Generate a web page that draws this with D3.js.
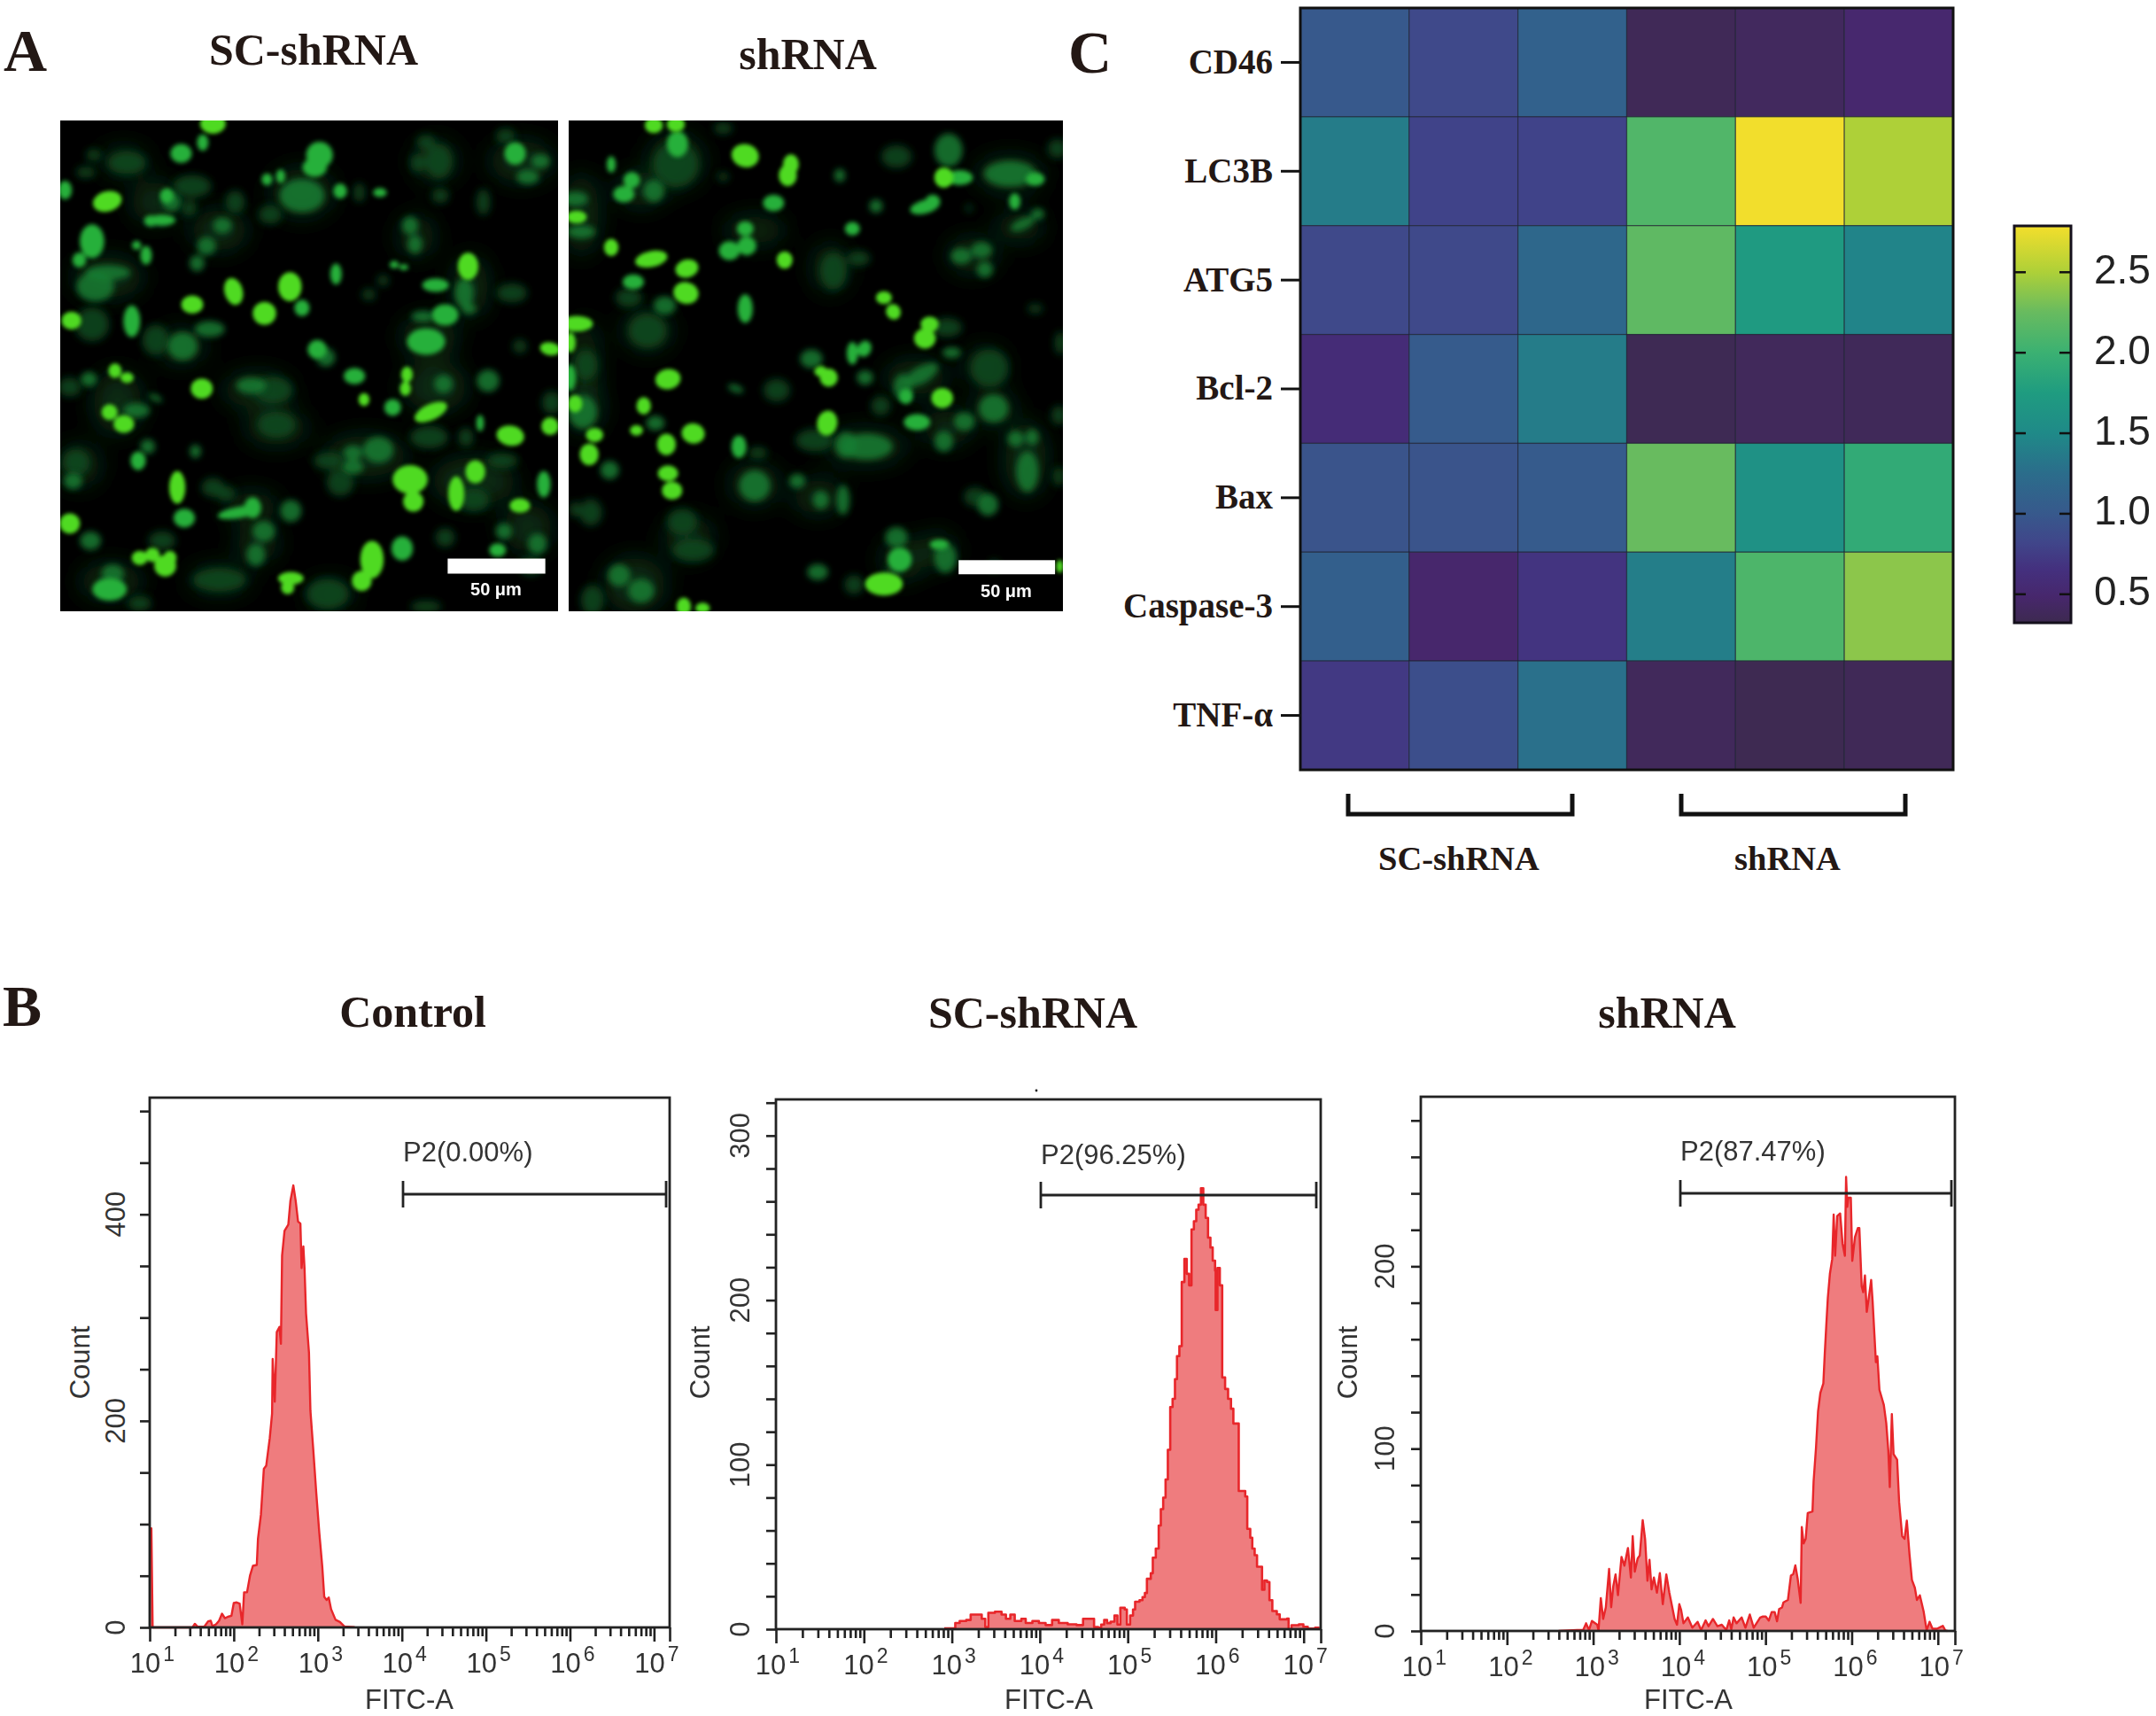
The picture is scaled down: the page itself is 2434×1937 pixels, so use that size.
<!DOCTYPE html>
<html><head><meta charset="utf-8">
<script src="https://cdn.jsdelivr.net/npm/d3@7"></script>
<style>html,body{margin:0;padding:0;background:#fff}svg{display:block}</style>
</head><body><svg id="fig" width="2434" height="1937"></svg>
<script>
// ---------- Panel C data ----------
const geneLabels = ["CD46","LC3B","ATG5","Bcl-2","Bax","Caspase-3","TNF-α"];
const sampleIds = ["s1","s2","s3","k1","k2","k3"];
const rowCD46 = [1.0,0.85,1.1,0.36,0.4,0.5];
const rowLC3B = [1.38,0.8,0.8,2.12,2.78,2.5];
const rowATG5 = [0.85,0.85,1.18,2.2,1.72,1.45];
const rowBcl2 = [0.58,1.03,1.38,0.34,0.38,0.37];
const rowBax = [0.95,0.95,1.02,2.25,1.6,1.92];
const rowCasp3 = [1.08,0.48,0.68,1.4,2.1,2.38];
const rowTNFa = [0.72,0.9,1.28,0.38,0.33,0.36];
const colorbarTicks = [0.5,1.0,1.5,2.0,2.5];
const colorDomain = [0.32,0.48,0.65,0.82,1.0,1.25,1.5,1.75,2.0,2.25,2.5,2.78];
const colorRange = ["#3d2a50","#47276c","#44307e","#40468a","#37598c","#2b6d8b","#1f8a88","#1f9c80","#3bb172","#68bb5f","#aed038","#f2de2c"];

// ---------- Panel B data: [log10 FITC-A, count] ----------
const controlHist = [[1,96],[1.02,96],[1.035,0],[1.5,0],[1.509,0],[1.537,3.5],[1.572,.6],[1.649,.6],[1.695,5.9],[1.726,6.5],[1.747,1.2],[1.789,3],[1.825,6.5],[1.86,13.3],[1.895,8.9],[1.93,10.3],[1.972,11.2],[2,23.6],[2.035,24.2],[2.07,23],[2.102,3],[2.123,34],[2.158,34],[2.193,50],[2.228,59.6],[2.274,60.5],[2.288,85.6],[2.323,109],[2.358,153.5],[2.386,156.5],[2.428,183],[2.456,207],[2.463,260],[2.488,218.5],[2.512,286],[2.544,291],[2.561,274.6],[2.575,360],[2.604,384],[2.649,390],[2.674,413],[2.709,428],[2.737,413],[2.765,393],[2.793,391],[2.807,348],[2.828,369],[2.842,348],[2.86,304],[2.895,266],[2.912,210],[2.947,171],[2.982,130],[3.018,91.5],[3.053,59],[3.077,29.5],[3.105,26.6],[3.13,29],[3.158,17.7],[3.211,7.4],[3.263,5.3],[3.316,.9],[3.439,.3]];
const scHist = [[2.914,.5],[3.014,.5],[3.039,3.8],[3.089,5],[3.164,5.6],[3.214,8.9],[3.29,8.9],[3.34,6.3],[3.38,1.3],[3.415,10],[3.49,10.6],[3.565,8.9],[3.615,6.3],[3.665,8.9],[3.715,5],[3.79,6.3],[3.84,3.8],[3.916,5],[3.99,3.8],[4.066,2.5],[4.14,5.6],[4.216,3.8],[4.317,3],[4.417,2.5],[4.492,6.3],[4.567,6.3],[4.617,1.3],[4.664,.9],[4.698,2.8],[4.732,5.6],[4.765,3.7],[4.805,4.6],[4.849,8.3],[4.883,2.8],[4.916,13],[4.966,12],[4.99,2.8],[5.027,8.3],[5.06,12],[5.084,16.7],[5.134,17.6],[5.168,19.5],[5.195,22],[5.218,30.6],[5.262,34],[5.285,43.5],[5.319,49],[5.352,63],[5.376,73],[5.403,80],[5.43,91],[5.456,109],[5.483,135],[5.51,140],[5.537,152],[5.56,166],[5.587,172],[5.614,211],[5.644,225],[5.671,216],[5.698,209],[5.725,243],[5.752,248],[5.779,255],[5.805,258],[5.832,268],[5.859,258],[5.886,250],[5.913,238],[5.94,232],[5.966,224],[5.993,218],[6,194],[6.02,219.5],[6.047,209],[6.074,153],[6.107,146],[6.141,140],[6.174,134],[6.201,125],[6.228,125],[6.262,84],[6.309,84],[6.336,80.6],[6.359,61],[6.393,55.6],[6.416,49],[6.443,45],[6.47,38],[6.503,38],[6.527,24],[6.554,29.6],[6.584,28.7],[6.611,17.6],[6.644,11],[6.695,9],[6.728,6],[6.812,6.5],[6.829,0],[6.862,2.4],[6.946,3],[6.997,1.5],[7.047,.4],[7.131,.9],[7.181,.9]];
const shHist = [[2.6,0],[2.815,.5],[2.884,.5],[2.918,4.2],[2.952,.5],[2.986,5.5],[3.048,3.4],[3.062,.2],[3.089,18],[3.116,6.6],[3.147,13],[3.185,34],[3.209,13],[3.233,24.4],[3.26,31],[3.288,19.6],[3.329,40.6],[3.363,35.8],[3.404,45.5],[3.438,29.3],[3.459,52],[3.483,32.5],[3.517,39.8],[3.541,41.4],[3.575,60.8],[3.603,50.3],[3.63,27.5],[3.654,39],[3.678,22.8],[3.705,29.3],[3.74,21],[3.774,31.7],[3.808,14.7],[3.849,31],[3.884,21],[3.918,13],[3.945,6.6],[3.973,3.4],[4,14.7],[4.021,11.5],[4.048,4.2],[4.099,7.4],[4.151,1.8],[4.212,5],[4.253,.5],[4.305,5.8],[4.339,2.6],[4.39,6.6],[4.442,2.6],[4.493,3.4],[4.545,.5],[4.579,5.8],[4.603,1],[4.63,7.4],[4.664,4.2],[4.723,7.4],[4.767,1.8],[4.818,9],[4.863,1.8],[4.938,7.4],[4.969,7.9],[5.003,7.9],[5.038,5.7],[5.072,10.4],[5.106,10.4],[5.134,5.3],[5.158,12],[5.192,12.9],[5.209,15.7],[5.26,17],[5.295,30.4],[5.322,31.2],[5.346,36],[5.373,28.7],[5.408,15.4],[5.421,57],[5.442,48],[5.466,50.5],[5.49,64.7],[5.545,65.5],[5.558,82],[5.586,100.6],[5.61,120.6],[5.637,130.7],[5.671,135.7],[5.688,152.4],[5.705,167.4],[5.723,182.5],[5.747,195.8],[5.774,204],[5.791,228.4],[5.808,205.8],[5.832,227.6],[5.866,229],[5.894,212.5],[5.921,205.8],[5.935,249],[5.949,232.6],[5.962,237.6],[5.99,237.6],[6.007,203],[6.038,216],[6.072,221],[6.089,221],[6.116,189],[6.134,185.8],[6.154,195],[6.175,175],[6.202,184],[6.226,192.5],[6.243,180.8],[6.264,162.4],[6.281,147.4],[6.298,150.7],[6.322,132.3],[6.373,124],[6.401,114],[6.425,99],[6.442,78.9],[6.466,119],[6.486,97],[6.527,94],[6.551,70.5],[6.586,52],[6.613,50.5],[6.64,60.5],[6.671,42],[6.699,28],[6.733,23.7],[6.757,17],[6.791,19.5],[6.836,10.4],[6.87,.3],[6.904,5],[6.938,1.2],[6.99,1.2],[7.058,2.8],[7.086,.3],[7.11,0]];
const controlYTicks = [0,200,400];
const scYTicks = [0,100,200,300];
const shYTicks = [0,100,200];
const decadeExponents = [1,2,3,4,5,6,7];
const minorMultipliers = [2,3,4,5,6,7,8,9];
const gateLabels = ["P2(0.00%)","P2(96.25%)","P2(87.47%)"];

const scHaze = [[150,500,100,60],[760,230,90,70],[1160,690,80,60],[620,860,100,50],[680,980,90,50],[960,1070,120,60],[160,1470,90,50],[850,1510,70,40],[1180,130,60,60],[380,720,70,50],[180,900,70,90],[1290,530,50,90],[500,350,80,60],[300,260,70,60],[1450,130,90,60],[500,1465,90,40],[1180,850,90,70],[1300,1150,120,70],[600,1230,80,40],[60,1100,60,60],[200,130,70,40],[1120,370,50,60],[620,1350,60,50],[1470,1300,70,70]];
const shHaze = [[340,130,80,80],[230,220,70,50],[40,300,50,120],[50,800,40,150],[50,920,50,70],[250,670,70,60],[210,1480,90,80],[940,1040,120,50],[590,1160,70,60],[1450,1080,60,110],[1100,820,90,50],[1320,780,60,50],[1060,1400,60,60],[1400,170,100,50],[590,350,90,40],[830,470,50,70],[790,1200,70,50],[1350,915,60,50],[1430,340,70,40],[1280,430,70,50],[1200,980,70,50],[380,1330,70,60],[1170,1370,50,50]];
const scBright = [[480,10,35,28],[148,258,40,28,-15],[35,638,27,25],[722,530,32,40],[642,615,32,32],[415,587,30,25],[545,545,25,38,-15],[1282,465,28,38],[1540,728,28,18,10],[1540,975,24,25],[1415,1005,38,28,10],[1100,1145,48,40],[1305,1120,27,32],[1245,1190,22,48],[980,1400,32,52],[948,1468,27,28],[1165,930,48,22,-25],[955,890,15,18],[1085,855,15,20],[1090,810,16,22],[200,968,28,25],[155,930,22,22],[172,798,18,20],[210,820,18,15],[445,855,30,28],[30,1285,28,28],[368,1170,22,45],[250,1395,22,20],[290,1385,20,20],[330,1420,30,30],[345,1395,18,20],[725,1460,35,18],[715,1490,18,18],[1110,1215,28,28],[1445,1228,28,20]];
const scMid = [[100,385,32,45],[15,222,18,25],[448,70,15,22],[380,105,28,25],[800,150,32,25],[815,110,35,35],[650,188,14,16],[693,178,12,18],[1430,105,28,30],[225,640,22,42],[867,490,15,28],[760,598,20,22],[270,430,15,25],[240,398,12,12],[320,318,35,15],[285,320,18,15],[335,240,18,20],[880,225,18,20],[1005,230,18,12],[1180,525,35,18],[1210,620,35,28],[1150,705,50,35],[808,730,25,25],[925,815,28,22],[1045,915,22,22],[245,1085,20,25],[390,1268,28,25],[560,1250,55,15,-10],[605,1235,22,28],[155,1495,45,30],[1375,1370,22,18],[1075,1365,28,32],[1520,1160,18,35],[1320,965,10,22],[60,445,18,20],[1050,460,12,10],[1080,468,12,8]];
const scDim = [[150,485,60,20],[110,530,50,40],[510,335,25,22],[430,455,20,22],[460,400,25,25],[350,260,25,25],[760,240,60,45],[385,720,40,38],[600,845,40,22],[470,665,40,22],[90,825,22,20],[95,1340,28,25],[240,925,35,20],[1345,830,30,30],[1205,840,25,25],[1000,1050,40,35],[920,1060,25,20],[920,1105,28,20],[1100,335,22,25],[1115,395,20,25],[1140,625,30,15],[1270,550,25,40],[1285,600,20,15],[725,1245,28,30],[640,1310,30,28],[615,1385,25,30],[165,1445,30,25],[1500,1350,25,28],[1395,1310,22,22],[1470,180,30,20],[1510,130,25,20],[275,1040,20,20],[425,1055,15,18],[40,1150,25,22],[300,885,20,8,25],[835,755,25,25]];
const scFaint = [[210,135,50,30],[80,165,25,15],[105,110,20,15],[100,650,45,45],[300,700,35,40],[30,850,30,25],[500,1465,70,30],[880,1155,35,35],[845,1085,40,22],[680,970,50,35],[670,860,50,35],[840,1510,55,40],[1190,130,35,45],[1125,135,20,25],[1150,70,25,20],[1330,260,18,35],[1195,240,22,20],[415,210,50,30],[550,260,25,30],[660,300,30,25],[405,280,20,20],[1420,550,40,25],[1445,720,18,18],[50,1090,35,35],[1275,1010,20,25],[1160,1010,50,30],[1545,900,25,30],[1390,1085,40,20],[1480,1420,30,25],[250,1540,30,20],[1150,1550,40,15],[1210,1330,25,25],[1400,50,25,20],[940,230,15,25],[1015,510,15,15],[970,555,18,15],[480,1170,30,25],[520,1190,25,20],[1300,1210,40,30],[320,1340,35,25]];
const shBright = [[560,112,38,32,15],[695,175,25,30],[705,140,22,28],[135,405,20,24],[262,442,45,22,-12],[375,472,32,25,-15],[372,550,35,30,15],[685,445,22,24],[25,648,45,22],[5,708,15,28],[25,308,28,18],[315,825,35,28,-10],[825,820,25,25],[800,800,18,15],[820,965,28,35,10],[1185,885,30,28],[215,988,18,15],[238,910,20,24],[395,998,32,28,10],[310,1033,26,30],[65,1065,26,30],[82,1003,24,20],[20,903,20,24],[328,1180,28,25],[315,1125,28,22],[1190,182,26,28],[1000,1478,52,32],[1130,695,30,28],[1145,650,25,22],[1030,610,20,22,-30],[1000,565,22,18],[365,1550,20,25],[425,1555,20,15],[270,15,25,22],[340,12,25,22],[1558,1422,10,18]];
const shMid = [[1240,182,35,20],[1480,187,25,18],[1415,258,15,22],[650,263,28,22],[175,235,28,22],[1130,275,40,18,-15],[1155,258,20,18],[900,742,15,30],[938,728,18,22,25],[1070,880,18,20],[1105,962,35,22],[345,75,28,35],[560,600,20,38],[135,140,12,22],[200,190,22,22],[1050,1400,32,32],[1175,1352,25,14],[540,1040,20,30],[560,345,22,20],[510,415,28,25],[565,400,25,25],[5,820,15,35],[900,345,20,18],[205,515,28,20]];
const shDim = [[1400,170,70,35],[1205,95,38,45],[1245,432,28,22],[1310,413,28,22],[1320,475,22,22],[1440,330,35,15,-25],[1488,298,18,15],[40,355,38,18],[20,250,35,20],[45,930,38,45],[590,1165,42,42],[160,1450,30,30],[230,1500,35,32],[945,1040,70,35],[880,1035,30,35],[1190,1023,25,28],[1348,918,40,38],[1418,1015,22,22],[1470,1010,18,22],[1455,1120,30,55],[940,820,22,20],[1120,810,50,22,-30],[1060,850,25,35],[770,760,30,25],[1215,740,25,15],[1040,1330,30,28],[790,1440,28,22],[275,965,25,20],[530,855,22,10,20],[870,1210,18,40],[800,1210,22,25],[725,1150,22,20],[305,590,30,25],[270,225,28,30],[975,273,18,18],[860,175,15,18],[1255,960,28,25],[130,1115,25,25],[1195,1395,30,40],[1330,1225,28,30]];
const shFaint = [[250,670,50,45],[340,140,60,60],[360,1280,40,35],[395,1370,55,30],[70,1250,30,35],[840,480,35,50],[1040,115,40,30],[190,565,35,25],[1335,790,50,50],[1200,660,40,25],[780,1020,50,30],[990,910,25,25],[55,780,30,40],[1560,710,15,30],[1555,940,20,25],[1555,1135,15,25],[1290,1200,30,25],[1030,1440,20,20],[1550,90,25,25],[490,25,25,15],[490,180,15,12],[1480,600,20,12],[75,1530,30,40],[660,860,35,30],[1270,280,10,10],[920,440,30,20],[905,1480,25,25],[600,1060,25,15],[20,1240,15,20],[1350,1420,15,15]];
const scaleBarLabel = "50 μm";

// ---------- Drawing ----------
const SERIF = "'Liberation Serif','Times New Roman',serif";
const SANS = "'Liberation Sans',Arial,sans-serif";
const INK = "#231815";
const svg = d3.select("#fig");
const defs = svg.append("defs");
svg.append("rect").attr("width",2434).attr("height",1937).attr("fill","#fff");

function serifText(txt,x,y,size,anchor){
  svg.append("text").text(txt).attr("x",x).attr("y",y)
    .attr("font-family",SERIF).attr("font-weight","bold").attr("font-size",size)
    .attr("fill",INK).attr("text-anchor",anchor||"middle");
}
serifText("A",4,80,68,"start");
serifText("C",1206,82,68,"start");
serifText("B",3,1158,66,"start");
serifText("SC-shRNA",354,73,50);
serifText("shRNA",912,78,50);
serifText("Control",466,1159,50);
serifText("SC-shRNA",1166,1160,50);
serifText("shRNA",1882,1160,50);

// Panel A
[["blurA",2.2],["blurB",2.8],["blurC",3.6],["blurD",5],["blurE",14]].forEach(([id,s])=>{
  defs.append("filter").attr("id",id).attr("x","-60%").attr("y","-60%").attr("width","220%").attr("height","220%")
    .append("feGaussianBlur").attr("stdDeviation",s);
});
function micrograph(id,xRange,domainMax,layers,bar,labelX,labelY){
  const x = d3.scaleLinear().domain([0,domainMax]).range(xRange);
  const y = d3.scaleLinear().domain([0,1565]).range([136,690]);
  const kx = (xRange[1]-xRange[0])/domainMax, ky = 554/1565;
  defs.append("clipPath").attr("id",id).append("rect")
    .attr("x",xRange[0]).attr("y",136).attr("width",xRange[1]-xRange[0]).attr("height",554);
  const g = svg.append("g").attr("clip-path",`url(#${id})`);
  g.append("rect").attr("x",xRange[0]).attr("y",136).attr("width",xRange[1]-xRange[0]).attr("height",554).attr("fill","#000");
  layers.forEach(l=>{
    g.append("g").attr("filter",`url(#${l.blur})`).selectAll("ellipse").data(l.cells).join("ellipse")
      .attr("rx",d=>d[2]*kx*l.grow).attr("ry",d=>d[3]*ky*l.grow)
      .attr("transform",d=>`translate(${x(d[0])},${y(d[1])}) rotate(${d[4]||0})`)
      .attr("fill",l.color).attr("fill-opacity",l.op);
  });
  g.append("rect").attr("x",x(bar[0])).attr("y",y(bar[2])).attr("width",x(bar[1])-x(bar[0])).attr("height",y(bar[3])-y(bar[2])).attr("fill","#fff");
  g.append("text").text(scaleBarLabel).attr("x",x(labelX)).attr("y",y(labelY)).attr("text-anchor","middle")
    .attr("font-family",SANS).attr("font-weight","bold").attr("font-size",20).attr("fill","#fff");
}
function cellLayers(haze,faint,dim,mid,bright){
  return [
    {cells:haze,color:"#0a3f1c",op:.7,blur:"blurE",grow:1.1},
    {cells:faint,color:"#0d4b22",op:.85,blur:"blurD",grow:1.2},
    {cells:dim,color:"#147d31",op:.85,blur:"blurC",grow:1.18},
    {cells:mid,color:"#25b03a",op:1,blur:"blurB",grow:1.2},
    {cells:bright,color:"#50da22",op:1,blur:"blurA",grow:1.15}];
}
micrograph("clipA1",[68,630],1565,cellLayers(scHaze,scFaint,scDim,scMid,scBright),[1218,1525,1397,1445],1370,1515);
micrograph("clipA2",[642,1200],1568,cellLayers(shHaze,shFaint,shDim,shMid,shBright),[1237,1543,1402,1447],1388,1520);

// Panel C
const heatValues = [rowCD46,rowLC3B,rowATG5,rowBcl2,rowBax,rowCasp3,rowTNFa];
const color = d3.scaleLinear().domain(colorDomain).range(colorRange).clamp(true);
const hx = d3.scaleBand().domain(sampleIds).range([1468,2205]);
const hy = d3.scaleBand().domain(geneLabels).range([9,869]);
const heat = svg.append("g");
heatValues.forEach((row,i)=>{
  heat.selectAll(null).data(row).join("rect")
    .attr("x",(d,j)=>hx(sampleIds[j])).attr("y",hy(geneLabels[i]))
    .attr("width",hx.bandwidth()).attr("height",hy.bandwidth())
    .attr("fill",d=>color(d)).attr("stroke","#1c2030").attr("stroke-opacity",.65).attr("stroke-width",1.2);
});
heat.append("rect").attr("x",1468).attr("y",9).attr("width",737).attr("height",860)
  .attr("fill","none").attr("stroke","#111").attr("stroke-width",3);
const hAxis = svg.append("g").attr("transform","translate(1467,0)").call(d3.axisLeft(hy).tickSize(21).tickPadding(9));
hAxis.select(".domain").remove();
hAxis.selectAll("line").attr("stroke","#111").attr("stroke-width",3);
hAxis.selectAll("text").attr("font-family",SERIF).attr("font-weight","bold").attr("font-size",39).attr("fill",INK);
function bracket(x0,x1){
  svg.append("path").attr("d",d3.line()([[x0,896],[x0,919],[x1,919],[x1,896]]))
    .attr("fill","none").attr("stroke","#111").attr("stroke-width",5);
}
bracket(1522,1775); bracket(1898,2151);
serifText("SC-shRNA",1647,982,38.5);
serifText("shRNA",2018,982,38.5);

// colour bar
const cy = d3.scaleLinear().domain([0.32,2.785]).range([703,255]);
const grad = defs.append("linearGradient").attr("id","cbar").attr("x1",0).attr("x2",0).attr("y1",1).attr("y2",0);
colorDomain.forEach((v,i)=>grad.append("stop").attr("offset",(v-0.32)/(2.785-0.32)).attr("stop-color",colorRange[i]));
svg.append("rect").attr("x",2274).attr("y",255).attr("width",64).attr("height",448)
  .attr("fill","url(#cbar)").attr("stroke","#15101c").attr("stroke-width",3);
[[d3.axisRight,2274],[d3.axisLeft,2338]].forEach(([ax,px])=>{
  const a = svg.append("g").attr("transform",`translate(${px},0)`).call(ax(cy).tickValues(colorbarTicks).tickSize(13).tickFormat(""));
  a.select(".domain").remove();
  a.selectAll("line").attr("stroke","#111").attr("stroke-width",2.5);
});
svg.selectAll(null).data(colorbarTicks).join("text")
  .text(d=>d.toFixed(1)).attr("x",2364).attr("y",d=>cy(d)+13)
  .attr("font-family",SANS).attr("font-size",46).attr("fill","#222");

// Panel B
function flowPlot(cfg){
  const x = d3.scaleLinear().domain([1,cfg.xMax]).range([cfg.left,cfg.right]);
  const y = d3.scaleLinear().domain([0,cfg.yMax]).range([cfg.base,cfg.top]);
  const g = svg.append("g");
  const area = d3.area().x(d=>x(d[0])).y0(cfg.base).y1(d=>y(d[1])).curve(cfg.curve);
  const line = d3.line().x(d=>x(d[0])).y(d=>y(d[1])).curve(cfg.curve);
  g.append("path").datum(cfg.hist).attr("d",area).attr("fill","#ef7c7e");
  g.append("path").datum(cfg.hist).attr("d",line).attr("fill","none").attr("stroke","#e8262a").attr("stroke-width",cfg.lineW).attr("stroke-linejoin","round");
  g.append("rect").attr("x",cfg.left).attr("y",cfg.top).attr("width",cfg.right-cfg.left).attr("height",cfg.base-cfg.top)
    .attr("fill","none").attr("stroke","#222").attr("stroke-width",2.8);
  const bottom = `translate(0,${cfg.base})`;
  const minorVals = decadeExponents.slice(0,-1).flatMap(e=>minorMultipliers.map(m=>e+Math.log10(m)));
  const a1 = g.append("g").attr("transform",bottom).call(d3.axisBottom(x).tickValues(decadeExponents.concat([cfg.xMax])).tickSize(16).tickFormat(""));
  const a2 = g.append("g").attr("transform",bottom).call(d3.axisBottom(x).tickValues(minorVals).tickSize(10).tickFormat(""));
  const minorY = d3.range(0,cfg.yMax,cfg.yStep);
  const a3 = g.append("g").attr("transform",`translate(${cfg.left},0)`).call(d3.axisLeft(y).tickValues(minorY).tickSize(11).tickFormat(""));
  [a1,a2,a3].forEach(a=>{
    a.select(".domain").remove();
    a.selectAll("line").attr("stroke","#222").attr("stroke-width",2.6);
  });
  decadeExponents.forEach(e=>{
    const t = g.append("text").attr("x",x(e)+cfg.labelDx).attr("y",cfg.labelY).attr("text-anchor","middle")
      .attr("font-family",SANS).attr("font-size",31).attr("fill","#333");
    t.append("tspan").text("10");
    t.append("tspan").text(e).attr("dy",-13).attr("dx",3).attr("font-size",23);
  });
  cfg.yTicks.forEach(v=>{
    g.append("text").text(v).attr("transform",`translate(${cfg.yLabelX},${y(v)}) rotate(-90)`)
      .attr("text-anchor","middle").attr("font-family",SANS).attr("font-size",31).attr("fill","#333");
  });
  g.append("text").text("Count").attr("transform",`translate(${cfg.countX},1538) rotate(-90)`)
    .attr("text-anchor","middle").attr("font-family",SANS).attr("font-size",31).attr("fill","#333");
  g.append("text").text("FITC-A").attr("x",cfg.fitcX).attr("y",1929).attr("text-anchor","middle")
    .attr("font-family",SANS).attr("font-size",31).attr("fill","#333");
  g.append("path").attr("d",d3.line()([[cfg.gate[0],cfg.gateY],[cfg.gate[1],cfg.gateY]])).attr("stroke","#222").attr("stroke-width",2.8);
  cfg.gate.forEach(px=>g.append("path").attr("d",d3.line()([[px,cfg.gateY-15],[px,cfg.gateY+15]])).attr("stroke","#222").attr("stroke-width",2.8));
  g.append("text").text(cfg.gateLabel).attr("x",cfg.gate[0]).attr("y",cfg.gateTextY)
    .attr("font-family",SANS).attr("font-size",31).attr("fill","#333");
}
flowPlot({hist:controlHist,curve:d3.curveLinear,lineW:2.4,left:169,right:756,top:1239,base:1837,xMax:7.186,yMax:513,yStep:50,
  yTicks:controlYTicks,yLabelX:141,countX:101,fitcX:462,labelDx:3,labelY:1888,gate:[455,752],gateY:1348,gateTextY:1311,gateLabel:gateLabels[0]});
flowPlot({hist:scHist,curve:d3.curveStepAfter,lineW:2.6,left:876,right:1491,top:1241,base:1839,xMax:7.194,yMax:322,yStep:20,
  yTicks:scYTicks,yLabelX:846,countX:801,fitcX:1184,labelDx:2,labelY:1890,gate:[1175,1486],gateY:1349,gateTextY:1314,gateLabel:gateLabels[1]});
flowPlot({hist:shHist,curve:d3.curveLinear,lineW:2.4,left:1604,right:2207,top:1238,base:1841,xMax:7.198,yMax:293,yStep:20,
  yTicks:shYTicks,yLabelX:1574,countX:1532,fitcX:1906,labelDx:4,labelY:1892,gate:[1897,2203],gateY:1347,gateTextY:1310,gateLabel:gateLabels[2]});
// stray speck above the SC-shRNA plot
svg.append("circle").attr("cx",1170).attr("cy",1231).attr("r",1.4).attr("fill","#222");
</script></body></html>
